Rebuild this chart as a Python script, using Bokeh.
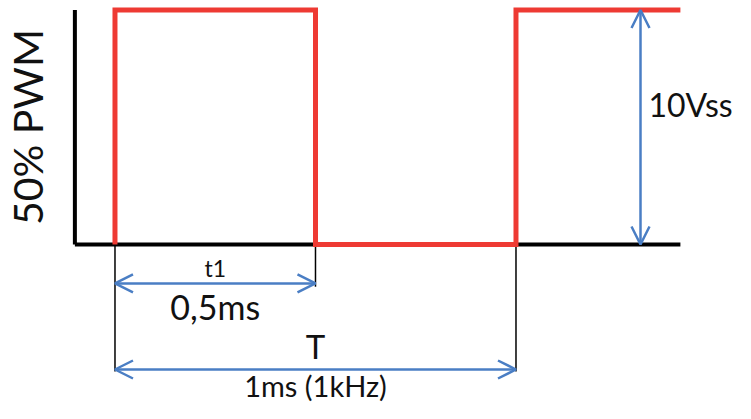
import math
from bokeh.plotting import figure
from bokeh.models import Arrow, OpenHead, ColumnDataSource
from bokeh.core.properties import value
from bokeh.embed import file_html
from bokeh.resources import INLINE

# ---- data (ms / volts) ----
time_ms = [0.0, 0.0, 0.5, 0.5, 1.0, 1.0, 1.41]
volts = [0, 10, 10, 0, 0, 10, 10]
axis_x_start = -0.1
axis_x_end = 1.41
v_high = 10
t1_ms = 0.5
period_ms = 1.0
label_t1 = "t1"
label_t1_val = "0,5ms"
label_T = "T"
label_T_val = "1ms (1kHz)"
label_vpp = "10Vss"
label_y = "50% PWM"

RED = "#EE3A33"
BLUE = "#4A7EC4"
FONT = value("Lato")

p = figure(width=735, height=403, output_backend="svg", toolbar_location=None,
           x_range=(-0.2855, 1.5474), y_range=(-6.780, 10.405),
           min_border=0, outline_line_color=None)
p.axis.visible = False
p.grid.visible = False
p.background_fill_color = "white"
p.border_fill_color = "white"

# black axes
p.line([axis_x_start, axis_x_end], [0, 0], line_color="black", line_width=4)
p.line([axis_x_start, axis_x_start], [0, v_high], line_color="black", line_width=4)

# dimension extension lines
p.line([0, 0], [0, -5.42], line_color="black", line_width=1.5)
p.line([t1_ms, t1_ms], [0, -1.8], line_color="black", line_width=1.5)
p.line([period_ms, period_ms], [0, -5.42], line_color="black", line_width=1.5)

# PWM waveform
p.line(time_ms, volts, line_color=RED, line_width=5, line_join="miter")

# arrows
def dim_arrow(x0, y0, x1, y1):
    p.add_layout(Arrow(x_start=x0, y_start=y0, x_end=x1, y_end=y1,
                       line_color=BLUE, line_width=2.5,
                       start=OpenHead(size=18, line_color=BLUE, line_width=2.5),
                       end=OpenHead(size=18, line_color=BLUE, line_width=2.5)))

dim_arrow(0, -1.66, t1_ms, -1.66)
dim_arrow(0, -5.33, period_ms, -5.33)
vx = 1.3105
dim_arrow(vx, 0, vx, v_high)

# texts
src = ColumnDataSource(dict(
    x=[t1_ms / 2, t1_ms / 2, period_ms / 2, period_ms / 2],
    y=[-1.015, -2.66, -4.316, -6.03],
    t=[label_t1, label_t1_val, label_T, label_T_val],
    s=["23px", "34px", "33px", "29px"],
))
p.text("x", "y", text="t", text_font_size="s", source=src, text_font=FONT,
       text_align="center", text_baseline="alphabetic", text_color="#111111")

p.text([1.3303], [5.96], text=[label_vpp], text_font=FONT, text_font_size="32px",
       text_align="left", text_baseline="alphabetic", text_color="#111111")

p.text([-0.2182], [5.01], text=[label_y], text_font=FONT, text_font_size="41px",
       angle=math.pi / 2, text_align="center", text_baseline="alphabetic",
       text_color="#111111")

open("out.html", "w").write(file_html(p, INLINE))
